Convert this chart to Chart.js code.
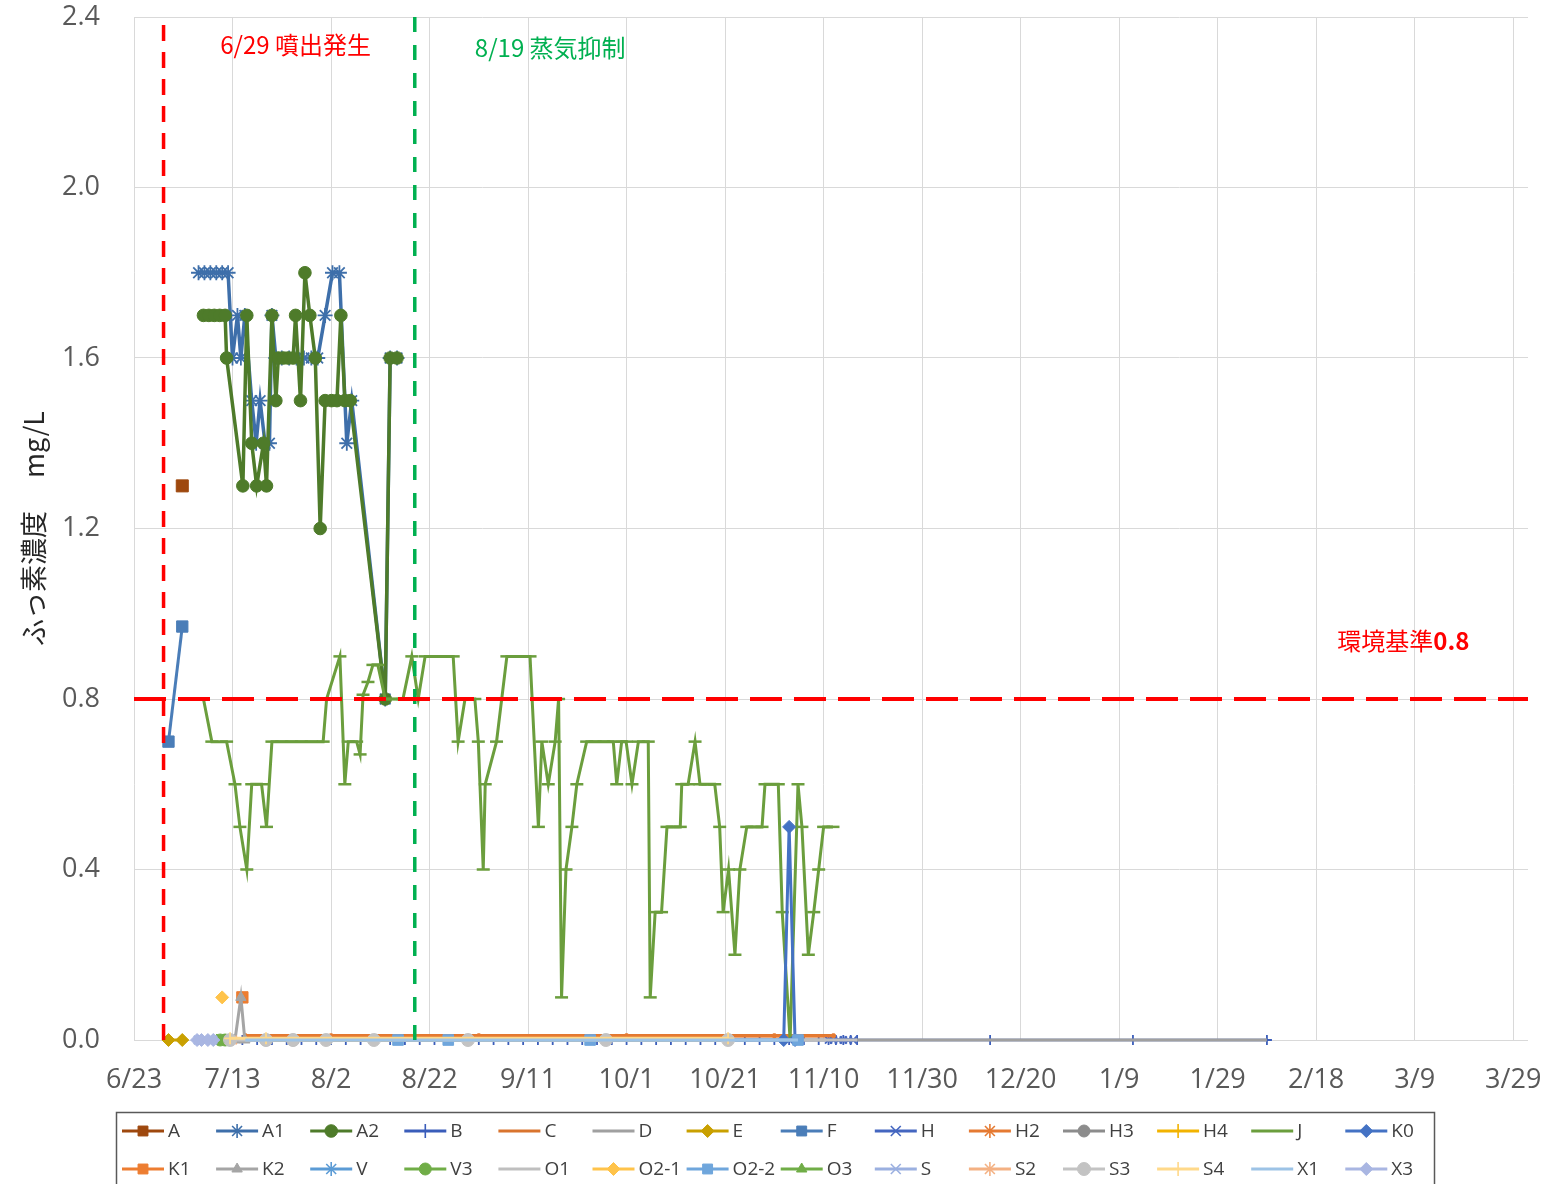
<!DOCTYPE html>
<html><head><meta charset="utf-8">
<script src="https://cdn.jsdelivr.net/npm/chart.js@4/dist/chart.umd.min.js"></script>
<style>html,body{margin:0;padding:0;background:#fff;}canvas{display:block;}</style>
</head><body>
<canvas id="c" width="1551" height="1184"></canvas>
<script>
// ---- DATA (x = days since 6/23, y = mg/L) ----
const X_TICK_DAYS = [0,20,40,60,80,100,120,140,160,180,200,220,240,260,280];
const X_TICK_LABELS = ['6/23','7/13','8/2','8/22','9/11','10/1','10/21','11/10','11/30','12/20','1/9','1/29','2/18','3/9','3/29'];
const Y_TICKS = [0,0.4,0.8,1.2,1.6,2.0,2.4];
const X_MAX = 283;
const EVENT_DAYS = [6, 57];          // 6/29, 8/19
const STANDARD = 0.8;                // 環境基準
const SERIES_NAMES = ['A','A1','A2','B','C','D','E','F','H','H2','H3','H4','J','K0','K1','K2','V','V3','O1','O2-1','O2-2','O3','S','S2','S3','S4','X1','X3'];

const A  = [[9.8,1.3]];
const A1 = [[13.1,1.8],[14.3,1.8],[15.5,1.8],[16.7,1.8],[17.9,1.8],[19.1,1.8],[20,1.6],[21,1.7],[21.7,1.6],[22.5,1.7],[23.9,1.5],[24.8,1.4],[25.6,1.5],[26.6,1.4],[27.5,1.4],[28,1.7],[28.8,1.6],[30,1.6],[31.5,1.6],[33,1.6],[34.5,1.6],[36,1.6],[37.3,1.6],[38.8,1.7],[40.3,1.8],[41.7,1.8],[43.2,1.4],[44.2,1.5],[51,0.8],[52,1.6],[53.4,1.6]];
const A2 = [[14.1,1.7],[15.2,1.7],[16.3,1.7],[17.4,1.7],[18.5,1.7],[18.8,1.6],[22.1,1.3],[22.9,1.7],[23.9,1.4],[24.9,1.3],[26.3,1.4],[26.9,1.3],[28,1.7],[28.8,1.5],[29.3,1.6],[30.3,1.6],[31.3,1.6],[32.3,1.6],[32.8,1.7],[33.8,1.5],[34.7,1.8],[35.7,1.7],[36.8,1.6],[37.8,1.2],[38.8,1.5],[40.1,1.5],[41.2,1.5],[42,1.7],[42.8,1.5],[43.9,1.5],[51,0.8],[52,1.6],[53.4,1.6]];
const B  = [[13,0],[16,0],[19,0],[22,0],[25,0],[28,0],[31,0],[34,0],[37,0],[40,0],[43,0],[46,0],[49,0],[52,0],[55,0],[58,0],[61,0],[64,0],[67,0],[70,0],[73,0],[76,0],[79,0],[82,0],[85,0],[88,0],[91,0],[94,0],[97,0],[100,0],[103,0],[106,0],[109,0],[112,0],[115,0],[118,0],[121,0],[124,0],[127,0],[130,0],[133,0],[136,0],[139,0],[141,0],[142.5,0],[144,0],[145.5,0],[146.8,0],[173.8,0],[202.8,0],[230,0]];
const C  = [[22.6,0.01],[60,0.01],[100,0.01],[142,0.01]];
const D  = [[13,0],[146.8,0],[173.8,0],[202.8,0],[230,0]];
const E  = [[7,0],[9.8,0]];
const F  = [[7,0.7],[9.8,0.97]];
const H  = [[141,0],[142,0],[143,0],[144,0],[145,0],[146,0]];
const H2 = [[22.6,0.01],[40,0.01],[70,0.01],[100,0.01],[130,0.01],[142,0.01]];
const H3 = [[26.8,0],[32.3,0]];
const H4 = [[26.8,0],[120.6,0]];
const J  = [[14.1,0.8],[15.8,0.7],[18.8,0.7],[20.5,0.6],[21.5,0.5],[22.9,0.4],[23.9,0.6],[25.9,0.6],[26.9,0.5],[28,0.7],[30,0.7],[32,0.7],[34,0.7],[36,0.7],[38.4,0.7],[39.1,0.8],[41.8,0.9],[42.8,0.6],[43.5,0.7],[45.2,0.7],[45.9,0.67],[46.5,0.81],[47.5,0.84],[48.5,0.88],[49.5,0.88],[51,0.8],[52.8,0.8],[54.6,0.8],[56.4,0.9],[57.7,0.8],[59.1,0.9],[61.1,0.9],[62.9,0.9],[64.8,0.9],[65.8,0.7],[67.2,0.8],[69.2,0.8],[69.9,0.7],[70.9,0.4],[71.3,0.6],[73.6,0.7],[75.7,0.9],[77.2,0.9],[78.8,0.9],[80.4,0.9],[82.1,0.5],[82.8,0.7],[84.1,0.6],[85.5,0.7],[86.2,0.8],[86.8,0.1],[87.7,0.4],[88.9,0.5],[89.9,0.6],[91.9,0.7],[93.6,0.7],[95.4,0.7],[97.3,0.7],[98,0.6],[99,0.7],[99.9,0.7],[101.1,0.6],[102.4,0.7],[104.4,0.7],[104.8,0.1],[105.8,0.3],[107.1,0.3],[108.2,0.5],[109.4,0.5],[110.9,0.5],[111.2,0.6],[112.5,0.6],[113.9,0.7],[114.9,0.6],[116.5,0.6],[117.9,0.6],[118.9,0.5],[119.6,0.3],[120.7,0.4],[122,0.2],[123,0.4],[124.4,0.5],[125.9,0.5],[127.5,0.5],[128.1,0.6],[129.5,0.6],[130.8,0.6],[131.6,0.3],[133.2,0],[134.8,0.6],[135.6,0.5],[136.9,0.2],[138,0.3],[139,0.4],[140,0.5],[141.9,0.5]];
const K0 = [[131.9,0],[133,0.5],[134.2,0]];
const K1 = [[22,0.1]];
const K2 = [[20.5,0],[21.7,0.1],[22.5,0]];
const V  = [[18.5,0],[19.5,0]];
const V3 = [[17.5,0],[18.5,0]];
const O1 = [[22.6,0],[146.8,0]];
const O2_1 = [[17.9,0.1]];
const O2_2 = [[53.6,0],[63.8,0],[92.6,0],[134.8,0]];
const O3 = [[16.8,0],[18.2,0],[19.5,0]];
const S  = [[13,0],[14.5,0],[16,0]];
const S2 = [[19.3,0],[20,0]];
const S3 = [[19.5,0],[26.8,0],[32.3,0],[39,0],[48.7,0],[67.8,0],[95.8,0],[120.6,0]];
const S4 = [[19.5,0.004],[26.8,0.004],[120.6,0.004]];
const X1 = [[22.6,0],[134.8,0]];
const X3 = [[12.8,0],[13.7,0],[15,0],[16.1,0]];

const SERIES_DATA = [A,A1,A2,B,C,D,E,F,H,H2,H3,H4,J,K0,K1,K2,V,V3,O1,O2_1,O2_2,O3,S,S2,S3,S4,X1,X3];

// ---- STYLES: [color, pointStyle, radius, lineWidth] ----
const STYLE = {
 'A':['#9E480E','rect',8.5,3], 'A1':['#3E6FAA','star',7.5,3.5], 'A2':['#4E7B2A','circle',6.3,3.5],
 'B':['#3A5DBA','cross',5,2.5], 'C':['#D9742E',false,0,3.5], 'D':['#A0A0A0',false,0,3],
 'E':['#C9A000','rectRot',6.5,3], 'F':['#4A7DB8','rect',8,3], 'H':['#4466C0','crossRot',5,2.5],
 'H2':['#E57A32','star',2.5,3], 'H3':['#8C8C8C','circle',6,3], 'H4':['#F2B300','cross',6,3],
 'J':['#6B9E3D','line',6.5,3], 'K0':['#4472C4','rectRot',6.5,3], 'K1':['#ED7D31','rect',8,3],
 'K2':['#A5A5A5','triangle',6,3], 'V':['#5B9BD5','star',6,3], 'V3':['#70AD47','circle',6,3],
 'O1':['#BFBFBF',false,0,3], 'O2-1':['#FFC34A','rectRot',6.5,3], 'O2-2':['#6FA6DC','rect',7.5,3],
 'O3':['#70AD47','triangle',6,3], 'S':['#9BB0E0','crossRot',6,3], 'S2':['#F4B183','star',6,3],
 'S3':['#C3C3C3','circle',6.5,3], 'S4':['#FFD98A','cross',6,3], 'X1':['#9DC3E6',false,0,3],
 'X3':['#A9B6E2','rectRot',6.5,3]
};

const TICK_FONT = {family:'"Open Sans", sans-serif', size:27};
const TEXT_GREY = '#595959';
const thinStyles = ['star','cross','crossRot'];

const datasets = SERIES_NAMES.map((name, i) => {
  const [color, ps, r, lw] = STYLE[name];
  return {
    label: name,
    data: SERIES_DATA[i].map(p => ({x:p[0], y:p[1]})),
    borderColor: color, backgroundColor: color,
    borderWidth: lw,
    pointStyle: ps || 'circle',
    pointRadius: ps ? r : 0,
    pointHoverRadius: ps ? r : 0,
    pointBackgroundColor: color, pointBorderColor: color,
    pointBorderWidth: thinStyles.includes(ps) ? 1.8 : (ps==='line' ? 2.5 : 1),
    tension: 0, clip: false, order: 100 - i
  };
});
// reference lines
datasets.push({label:'_v1', data:[{x:EVENT_DAYS[0],y:Y_TICKS[0]},{x:EVENT_DAYS[0],y:Y_TICKS[Y_TICKS.length-1]}],
  borderColor:'#FF0000', borderWidth:3.5, borderDash:[16,11], pointRadius:0, order:-10});
datasets.push({label:'_v2', data:[{x:EVENT_DAYS[1],y:Y_TICKS[0]},{x:EVENT_DAYS[1],y:Y_TICKS[Y_TICKS.length-1]}],
  borderColor:'#00B050', borderWidth:3.5, borderDash:[15,13], pointRadius:0, order:-10});
datasets.push({label:'_h', data:[{x:0,y:STANDARD},{x:X_MAX,y:STANDARD}],
  borderColor:'#FF0000', borderWidth:4, borderDash:[32,12], pointRadius:0, order:-11});

// annotation texts (anchored in data units)
const NOTES = [
  {parts:[['6/29 噴出発生','normal']], x:17.5, y:2.334, color:'#FF0000'},
  {parts:[['8/19 蒸気抑制','normal']], x:69.2, y:2.327, color:'#00B050'},
  {parts:[['環境基準','normal'],['0.8','bold']], x:244.3, y:0.936, color:'#FF0000'}
];

const notePlugin = {
  id:'notes',
  afterDraw(chart){
    const ctx = chart.ctx, xs = chart.scales.x, ys = chart.scales.y;
    ctx.save();
    ctx.textBaseline = 'middle'; ctx.textAlign = 'left';
    NOTES.forEach(n => {
      let x = xs.getPixelForValue(n.x); const y = ys.getPixelForValue(n.y);
      ctx.fillStyle = n.color;
      n.parts.forEach(([t,w]) => {
        ctx.font = w + ' 24px "Noto Sans CJK JP", sans-serif';
        ctx.fillText(t, x, y);
        x += ctx.measureText(t).width;
      });
    });
    ctx.restore();
  }
};

function drawMarker(ctx, style, r, x, y, color, bw){
  if (!style) return;
  ctx.save();
  ctx.fillStyle = color; ctx.strokeStyle = color; ctx.lineWidth = bw;
  if (Chart.helpers && Chart.helpers.drawPoint) {
    Chart.helpers.drawPoint(ctx, {pointStyle:style, radius:r, borderWidth:bw, rotation:0}, x, y);
  }
  ctx.restore();
}

const legendPlugin = {
  id:'gridLegend',
  afterDraw(chart){
    const ctx = chart.ctx;
    ctx.save();
    ctx.strokeStyle = '#595959'; ctx.lineWidth = 1.5;
    ctx.strokeRect(116.5, 1112.5, 1318, 120);
    ctx.font = '19px "Open Sans", sans-serif';
    ctx.textBaseline = 'middle'; ctx.textAlign = 'left';
    SERIES_NAMES.forEach((name, i) => {
      const [color, ps, r] = STYLE[name];
      const col = i % 14, row = Math.floor(i / 14);
      const x0 = 122 + col * 94.1, y = 1131 + row * 38;
      ctx.strokeStyle = color; ctx.lineWidth = 3;
      ctx.beginPath(); ctx.moveTo(x0, y); ctx.lineTo(x0 + 42, y); ctx.stroke();
      const bw = thinStyles.includes(ps) ? 1.6 : (ps==='line'?2.5:1);
      const lr = ps === 'line' ? 0 : (thinStyles.includes(ps) ? 7 : Math.min(r, 7));
      drawMarker(ctx, ps === 'line' ? false : ps, lr, x0 + 21, y, color, bw);
      ctx.fillStyle = '#404040';
      ctx.fillText(name, x0 + 46, y + 1);
    });
    ctx.restore();
  }
};

new Chart(document.getElementById('c'), {
  type:'line',
  data:{datasets},
  options:{
    responsive:false, animation:false, devicePixelRatio:1,
    layout:{padding:{left:0, right:23, top:17, bottom:74}},
    plugins:{legend:{display:false}, tooltip:{enabled:false}},
    scales:{
      x:{type:'linear', min:0, max:X_MAX,
        afterBuildTicks:(s)=>{ s.ticks = X_TICK_DAYS.map(v=>({value:v})); },
        afterFit:(s)=>{ s.height = 70; s.paddingLeft=0; s.paddingRight=0; s.paddingTop=0; s.paddingBottom=0; },
        ticks:{autoSkip:false, maxRotation:0, minRotation:0, padding:24, color:TEXT_GREY, font:TICK_FONT,
          callback:(v,i)=>X_TICK_LABELS[i]},
        grid:{color:'#D9D9D9', lineWidth:1, drawTicks:false},
        border:{display:false}
      },
      y:{type:'linear', min:0, max:2.4,
        afterBuildTicks:(s)=>{ s.ticks = Y_TICKS.map(v=>({value:v})); },
        afterFit:(s)=>{ s.width = 134; s.paddingTop=0; s.paddingBottom=0; s.paddingLeft=0; s.paddingRight=0; },
        ticks:{padding:34, color:TEXT_GREY, font:TICK_FONT, callback:(v)=>Number(v).toFixed(1)},
        grid:{color:'#D9D9D9', lineWidth:1, drawTicks:false},
        border:{display:false},
        title:{display:true, text:'ふっ素濃度　 mg/L', color:'#262626',
          font:{family:'"Noto Sans CJK JP", sans-serif', size:27}, padding:{top:18, bottom:0}}
      }
    }
  },
  plugins:[notePlugin, legendPlugin]
});
</script>
</body></html>
